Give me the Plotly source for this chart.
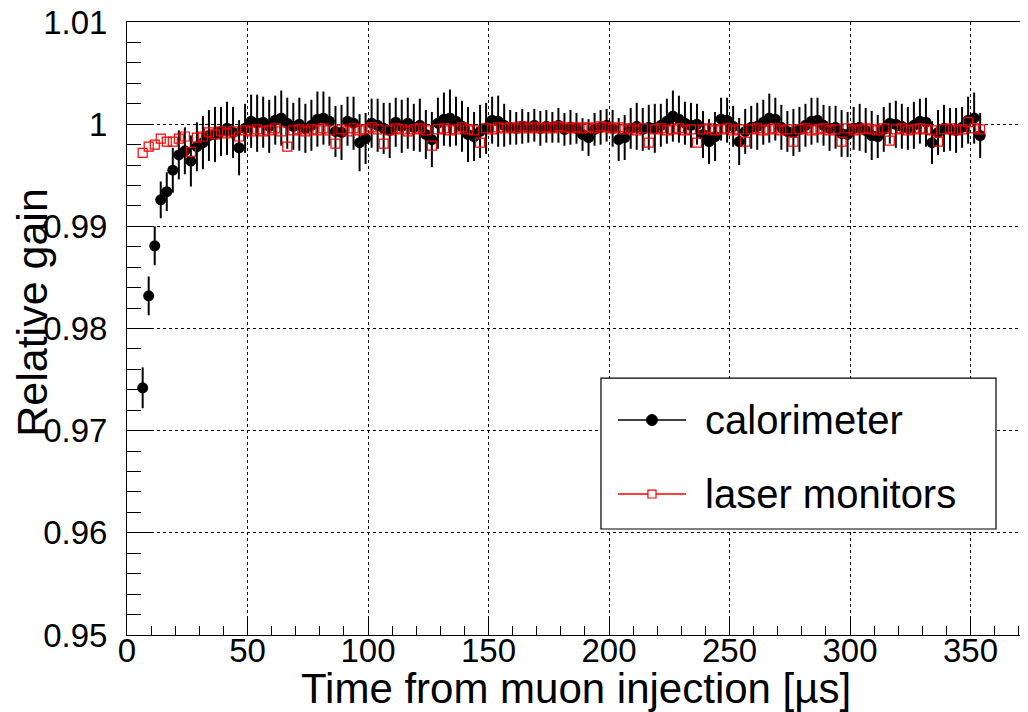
import plotly.graph_objects as go

# time bin centres [us]
time_us = [
    6.5, 9.0, 11.5, 14.0, 16.5, 19.0, 21.5, 24.0, 26.5, 29.0,
    31.5, 34.0, 36.5, 39.0, 41.5, 44.0, 46.5, 49.0, 51.5, 54.0,
    56.5, 59.0, 61.5, 64.0, 66.5, 69.0, 71.5, 74.0, 76.5, 79.0,
    81.5, 84.0, 86.5, 89.0, 91.5, 94.0, 96.5, 99.0, 101.5, 104.0,
    106.5, 109.0, 111.5, 114.0, 116.5, 119.0, 121.5, 124.0, 126.5, 129.0,
    131.5, 134.0, 136.5, 139.0, 141.5, 144.0, 146.5, 149.0, 151.5, 154.0,
    156.5, 159.0, 161.5, 164.0, 166.5, 169.0, 171.5, 174.0, 176.5, 179.0,
    181.5, 184.0, 186.5, 189.0, 191.5, 194.0, 196.5, 199.0, 201.5, 204.0,
    206.5, 209.0, 211.5, 214.0, 216.5, 219.0, 221.5, 224.0, 226.5, 229.0,
    231.5, 234.0, 236.5, 239.0, 241.5, 244.0, 246.5, 249.0, 251.5, 254.0,
    256.5, 259.0, 261.5, 264.0, 266.5, 269.0, 271.5, 274.0, 276.5, 279.0,
    281.5, 284.0, 286.5, 289.0, 291.5, 294.0, 296.5, 299.0, 301.5, 304.0,
    306.5, 309.0, 311.5, 314.0, 316.5, 319.0, 321.5, 324.0, 326.5, 329.0,
    331.5, 334.0, 336.5, 339.0, 341.5, 344.0, 346.5, 349.0, 351.5, 354.0,
]

calorimeter_gain = [
    0.9742, 0.9832, 0.9881, 0.9926, 0.9934, 0.9955, 0.9970, 0.9974, 0.9964, 0.9978,
    0.9982, 0.9989, 0.9990, 0.9993, 0.9996, 0.9992, 0.9977, 0.9996, 1.0003, 1.0001,
    1.0002, 0.9998, 1.0004, 1.0006, 1.0001, 0.9998, 1.0000, 0.9996, 0.9999, 1.0005,
    1.0006, 1.0003, 0.9993, 0.9992, 1.0003, 1.0001, 0.9982, 0.9986, 1.0001, 0.9999,
    0.9996, 0.9994, 1.0002, 0.9998, 1.0001, 0.9997, 0.9999, 0.9990, 0.9985, 1.0001,
    1.0005, 1.0006, 1.0003, 0.9998, 0.9990, 0.9988, 0.9993, 0.9996, 1.0004, 1.0003,
    0.9999, 0.9997, 0.9996, 0.9998, 0.9997, 0.9999, 0.9996, 0.9998, 0.9997, 0.9999,
    0.9995, 0.9997, 0.9996, 0.9990, 0.9987, 0.9995, 0.9997, 0.9999, 0.9996, 0.9985,
    0.9987, 0.9996, 0.9998, 0.9995, 0.9997, 0.9996, 0.9999, 1.0003, 1.0008, 1.0005,
    1.0001, 0.9999, 1.0000, 0.9990, 0.9983, 0.9988, 1.0005, 1.0004, 0.9998, 0.9983,
    0.9993, 0.9997, 0.9998, 1.0002, 1.0006, 1.0005, 0.9997, 0.9993, 0.9992, 0.9995,
    0.9999, 1.0003, 1.0004, 0.9999, 0.9996, 0.9997, 0.9991, 0.9990, 0.9996, 0.9997,
    0.9994, 0.9989, 0.9988, 0.9995, 1.0001, 1.0000, 0.9998, 0.9996, 0.9999, 1.0003,
    1.0002, 0.9982, 0.9992, 0.9996, 0.9995, 0.9994, 0.9997, 1.0004, 1.0006, 0.9989,
]

calorimeter_err = [
    0.0020, 0.0019, 0.0019, 0.0018, 0.0019, 0.0022, 0.0024, 0.0023, 0.0025, 0.0024,
    0.0026, 0.0025, 0.0027, 0.0024, 0.0026, 0.0025, 0.0027, 0.0024, 0.0026, 0.0028,
    0.0025, 0.0026, 0.0024, 0.0027, 0.0025, 0.0023, 0.0026, 0.0024, 0.0025, 0.0027,
    0.0026, 0.0024, 0.0025, 0.0027, 0.0024, 0.0026, 0.0028, 0.0025, 0.0024, 0.0026,
    0.0025, 0.0027, 0.0024, 0.0026, 0.0025, 0.0023, 0.0026, 0.0024, 0.0027, 0.0025,
    0.0026, 0.0028, 0.0024, 0.0025, 0.0027, 0.0024, 0.0026, 0.0025, 0.0023, 0.0025,
    0.0021, 0.0017, 0.0016, 0.0017, 0.0015, 0.0016, 0.0017, 0.0016, 0.0015, 0.0017,
    0.0016, 0.0017, 0.0015, 0.0016, 0.0018, 0.0016, 0.0017, 0.0016, 0.0018, 0.0021,
    0.0022, 0.0020, 0.0023, 0.0021, 0.0022, 0.0024, 0.0021, 0.0022, 0.0025, 0.0023,
    0.0021, 0.0022, 0.0020, 0.0023, 0.0022, 0.0024, 0.0021, 0.0022, 0.0020, 0.0023,
    0.0022, 0.0021, 0.0023, 0.0022, 0.0024, 0.0021, 0.0022, 0.0020, 0.0023, 0.0022,
    0.0021, 0.0023, 0.0022, 0.0020, 0.0022, 0.0021, 0.0023, 0.0022, 0.0021, 0.0023,
    0.0022, 0.0024, 0.0021, 0.0022, 0.0020, 0.0023, 0.0022, 0.0021, 0.0023, 0.0022,
    0.0024, 0.0021, 0.0022, 0.0023, 0.0021, 0.0022, 0.0020, 0.0023, 0.0025, 0.0022,
]

laser_gain = [
    0.9972, 0.9978, 0.9980, 0.9986, 0.9983, 0.9983, 0.9986, 0.9988, 0.9973, 0.9987,
    0.9988, 0.9992, 0.9990, 0.9993, 0.9991, 0.9993, 0.9988, 0.9994, 0.9993, 0.9995,
    0.9993, 0.9994, 0.9996, 0.9993, 0.9978, 0.9994, 0.9995, 0.9993, 0.9995, 0.9994,
    0.9996, 0.9994, 0.9981, 0.9995, 0.9993, 0.9996, 0.9994, 0.9995, 0.9997, 0.9995,
    0.9981, 0.9994, 0.9996, 0.9995, 0.9993, 0.9995, 0.9996, 0.9994, 0.9979, 0.9995,
    0.9996, 0.9994, 0.9995, 0.9997, 0.9995, 0.9994, 0.9982, 0.9996, 0.9995, 0.9997,
    0.9996, 0.9997, 0.9996, 0.9998, 0.9996, 0.9997, 0.9996, 0.9997, 0.9996, 0.9998,
    0.9997, 0.9996, 0.9997, 0.9996, 0.9997, 0.9996, 0.9998, 0.9997, 0.9996, 0.9997,
    0.9995, 0.9996, 0.9994, 0.9996, 0.9982, 0.9995, 0.9996, 0.9994, 0.9995, 0.9996,
    0.9994, 0.9995, 0.9982, 0.9995, 0.9996, 0.9994, 0.9995, 0.9996, 0.9994, 0.9995,
    0.9983, 0.9995, 0.9996, 0.9994, 0.9995, 0.9996, 0.9994, 0.9995, 0.9983, 0.9995,
    0.9996, 0.9994, 0.9995, 0.9996, 0.9994, 0.9995, 0.9983, 0.9996, 0.9994, 0.9995,
    0.9996, 0.9995, 0.9994, 0.9996, 0.9984, 0.9995, 0.9996, 0.9994, 0.9995, 0.9996,
    0.9995, 0.9994, 0.9983, 0.9995, 0.9996, 0.9994, 0.9995, 1.0002, 0.9996, 0.9995,
]

y_ticks = [0.95, 0.96, 0.97, 0.98, 0.99, 1.0, 1.01]
y_tick_labels = ["0.95", "0.96", "0.97", "0.98", "0.99", "1", "1.01"]
x_ticks = [0, 50, 100, 150, 200, 250, 300, 350]

FONT = "Liberation Sans, Arial, Helvetica, sans-serif"

fig = go.Figure()

fig.add_trace(go.Scatter(
    x=time_us, y=calorimeter_gain, mode="markers", name="calorimeter",
    marker=dict(symbol="circle", size=11, color="black"),
    error_y=dict(type="data", array=calorimeter_err, color="black", thickness=2, width=0),
    showlegend=False,
))
fig.add_trace(go.Scatter(
    x=time_us, y=laser_gain, mode="markers", name="laser monitors",
    marker=dict(symbol="square-open", size=9, color="red", line=dict(width=1.2, color="red")),
    showlegend=False,
))

fig.update_xaxes(
    range=[0, 372.6], tickvals=x_ticks, ticks="inside", ticklen=18, tickwidth=1,
    tickcolor="black", showline=True, linecolor="black", linewidth=1, mirror=True,
    showgrid=True, gridcolor="black", gridwidth=1, griddash="3px,3px", zeroline=False,
    minor=dict(dtick=10, ticks="inside", ticklen=9, tickcolor="black", showgrid=False),
    tickfont=dict(family=FONT, size=33, color="black"),
    automargin=False, ticklabelstandoff=-14, ticklabeloverflow="allow",
)
fig.update_yaxes(
    range=[0.95, 1.01001], tickvals=y_ticks, ticktext=y_tick_labels, ticks="inside",
    ticklen=27, tickwidth=1, tickcolor="black", showline=True, linecolor="black",
    linewidth=1, mirror=True, showgrid=True, gridcolor="black", gridwidth=1,
    griddash="3px,3px", zeroline=False, ticklabelstandoff=12,
    minor=dict(dtick=0.002, ticks="inside", ticklen=14, tickcolor="black", showgrid=False),
    tickfont=dict(family=FONT, size=33, color="black"),
    automargin=False, ticklabeloverflow="allow",
)

# legend box drawn by hand to match the ROOT legend
shapes = [
    dict(type="rect", xref="paper", yref="paper", x0=0.5278, x1=0.9677, y0=0.1729, y1=0.4192,
         line=dict(color="black", width=1.2), fillcolor="white", layer="above"),
    dict(type="line", xref="paper", yref="paper", x0=0.5468, x1=0.6225, y0=0.3507, y1=0.3507,
         line=dict(color="black", width=1.5), layer="above"),
    dict(type="circle", xref="paper", yref="paper", x0=0.5846 - 0.0061, x1=0.5846 + 0.0061,
         y0=0.3507 - 0.0090, y1=0.3507 + 0.0090, line=dict(color="black", width=1),
         fillcolor="black", layer="above"),
    dict(type="line", xref="paper", yref="paper", x0=0.5468, x1=0.6225, y0=0.2300, y1=0.2300,
         line=dict(color="red", width=1.5), layer="above"),
    dict(type="rect", xref="paper", yref="paper", x0=0.5846 - 0.0045, x1=0.5846 + 0.0045,
         y0=0.2300 - 0.0065, y1=0.2300 + 0.0065, line=dict(color="red", width=1.2),
         fillcolor="white", layer="above"),
]

annotations = [
    dict(text="calorimeter", xref="paper", yref="paper", x=0.6414, y=0.3507,
         xanchor="left", yanchor="middle", showarrow=False,
         font=dict(family=FONT, size=40, color="black")),
    dict(text="laser monitors", xref="paper", yref="paper", x=0.6414, y=0.2300,
         xanchor="left", yanchor="middle", showarrow=False,
         font=dict(family=FONT, size=40, color="black")),
    dict(text="Time from muon injection [µs]", xref="paper", yref="paper", x=0.5, y=-0.087,
         xanchor="center", yanchor="middle", showarrow=False,
         font=dict(family=FONT, size=42, color="black")),
    dict(text="Relative gain", xref="paper", yref="paper", x=-0.106, y=0.527,
         xanchor="center", yanchor="middle", textangle=-90, showarrow=False,
         font=dict(family=FONT, size=43, color="black")),
]

# the html page adds an 8px body margin, so the figure is 8px smaller
# and the margins are trimmed so the plot frame lands where the reference has it
fig.update_layout(
    width=1020, height=704,
    margin=dict(l=119, r=3, t=14, b=77),
    plot_bgcolor="white", paper_bgcolor="white",
    shapes=shapes, annotations=annotations,
    showlegend=False,
)

fig.write_html("out.html")
